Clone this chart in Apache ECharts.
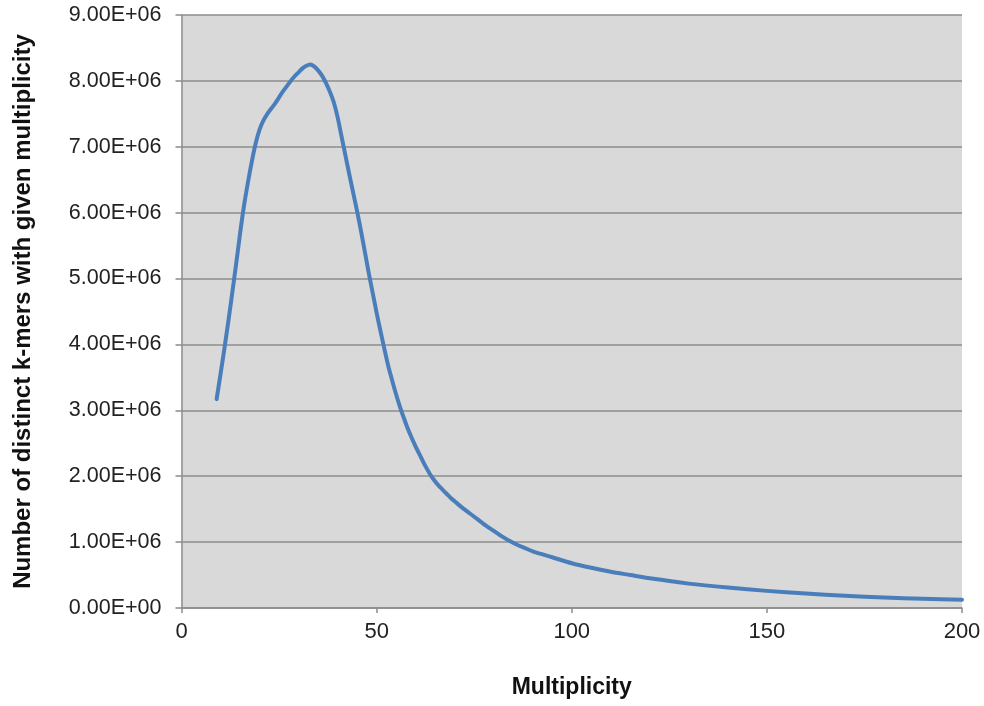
<!DOCTYPE html>
<html>
<head>
<meta charset="utf-8">
<script src="https://cdn.jsdelivr.net/npm/echarts@6/dist/echarts.min.js"></script>
<style>
  html, body { margin: 0; padding: 0; background: #ffffff; }
  #chart { width: 984px; height: 706px; }
</style>
</head>
<body>
<div id="chart"></div>
<script>
// k-mer multiplicity histogram: multiplicity vs. count of distinct k-mers
const multiplicity = [
  9, 10, 11, 12, 13, 14, 15, 16, 17, 18, 19, 20, 21, 22, 23, 24, 25, 26, 27, 28, 29, 30,
  31, 32, 33, 34, 35, 36, 37, 38, 39, 40, 41, 42, 43, 44, 45, 46, 47, 48, 49, 50, 51, 52,
  53, 54, 55, 56, 57, 58, 59, 60, 61, 62, 63, 64, 65, 66, 67, 68, 69, 70,
  72, 74, 76, 78, 80, 82, 84, 86, 88, 90, 95, 100, 105, 110, 115, 120,
  130, 140, 150, 160, 170, 180, 190, 200
];
const distinctKmers = [
  3.17e6, 3.55e6, 3.94e6, 4.35e6, 4.78e6, 5.22e6, 5.68e6, 6.10e6, 6.45e6, 6.77e6, 7.05e6, 7.26e6,
  7.40e6, 7.50e6, 7.58e6, 7.66e6, 7.75e6, 7.84e6, 7.92e6, 8.00e6, 8.07e6, 8.13e6,
  8.19e6, 8.23e6, 8.25e6, 8.22e6, 8.16e6, 8.08e6, 7.97e6, 7.84e6, 7.68e6, 7.45e6, 7.16e6, 6.87e6,
  6.58e6, 6.30e6, 6.02e6, 5.72e6, 5.40e6, 5.08e6, 4.78e6, 4.48e6, 4.20e6, 3.93e6,
  3.67e6, 3.45e6, 3.24e6, 3.05e6, 2.88e6, 2.72e6, 2.58e6, 2.45e6, 2.33e6, 2.21e6, 2.10e6, 2.00e6,
  1.92e6, 1.85e6, 1.79e6, 1.73e6, 1.67e6, 1.62e6,
  1.52e6, 1.43e6, 1.34e6, 1.25e6, 1.17e6, 1.09e6, 1.02e6, 0.96e6, 0.91e6, 0.86e6,
  0.77e6, 0.68e6, 0.61e6, 0.55e6, 0.50e6, 0.45e6,
  0.37e6, 0.31e6, 0.26e6, 0.22e6, 0.185e6, 0.16e6, 0.14e6, 0.125e6
];
const xTicks = { min: 0, max: 200, step: 50 };
const yTicks = { min: 0, max: 9e6, step: 1e6 };

// Excel-style scientific label, e.g. 8.00E+06
function sci(v) {
  if (v === 0) return '0.00E+00';
  const exp = Math.floor(Math.log10(Math.abs(v)));
  const mant = v / Math.pow(10, exp);
  const sign = exp < 0 ? '-' : '+';
  const e = String(Math.abs(exp)).padStart(2, '0');
  return mant.toFixed(2) + 'E' + sign + e;
}

const font = '"Liberation Sans", Arial, Helvetica, sans-serif';
const chart = echarts.init(document.getElementById('chart'), null, { renderer: 'canvas' });

chart.setOption({
  animation: false,
  backgroundColor: '#ffffff',
  grid: {
    left: 181.5, right: 22, top: 15, bottom: 98,
    outerBoundsMode: 'none',
    containLabel: false,
    show: true, backgroundColor: '#d9d9d9', borderWidth: 0
  },
  xAxis: {
    type: 'value',
    min: xTicks.min, max: xTicks.max, interval: xTicks.step,
    name: 'Multiplicity',
    nameLocation: 'middle',
    nameGap: 68,
    nameTextStyle: { fontFamily: font, fontWeight: 'bold', fontSize: 23, color: '#111' },
    axisLine: { show: true, lineStyle: { color: '#8c8c8c', width: 1.5 } },
    axisTick: { show: true, inside: false, length: 5, lineStyle: { color: '#8c8c8c', width: 1.5 } },
    axisLabel: { fontFamily: font, fontSize: 22, color: '#222', margin: 13 },
    splitLine: { show: false }
  },
  yAxis: {
    type: 'value',
    min: yTicks.min, max: yTicks.max, interval: yTicks.step,
    name: 'Number of distinct k-mers with given multiplicity',
    nameLocation: 'middle',
    nameGap: 146,
    nameTextStyle: { fontFamily: font, fontWeight: 'bold', fontSize: 24, color: '#111' },
    axisLine: { show: true, lineStyle: { color: '#8c8c8c', width: 1.5 } },
    axisTick: { show: true, inside: false, length: 6, lineStyle: { color: '#8c8c8c', width: 1.5 } },
    axisLabel: { fontFamily: font, fontSize: 21.5, color: '#222', margin: 20, formatter: sci },
    splitLine: { show: true, lineStyle: { color: '#8c8c8c', width: 1.5 } }
  },
  series: [{
    type: 'line',
    data: multiplicity.map((m, i) => [m, distinctKmers[i]]),
    smooth: 0.25,
    showSymbol: false,
    lineStyle: { color: '#4a7ebb', width: 4, cap: 'round', join: 'round' },
    itemStyle: { color: '#4a7ebb' }
  }]
});
</script>
</body>
</html>
